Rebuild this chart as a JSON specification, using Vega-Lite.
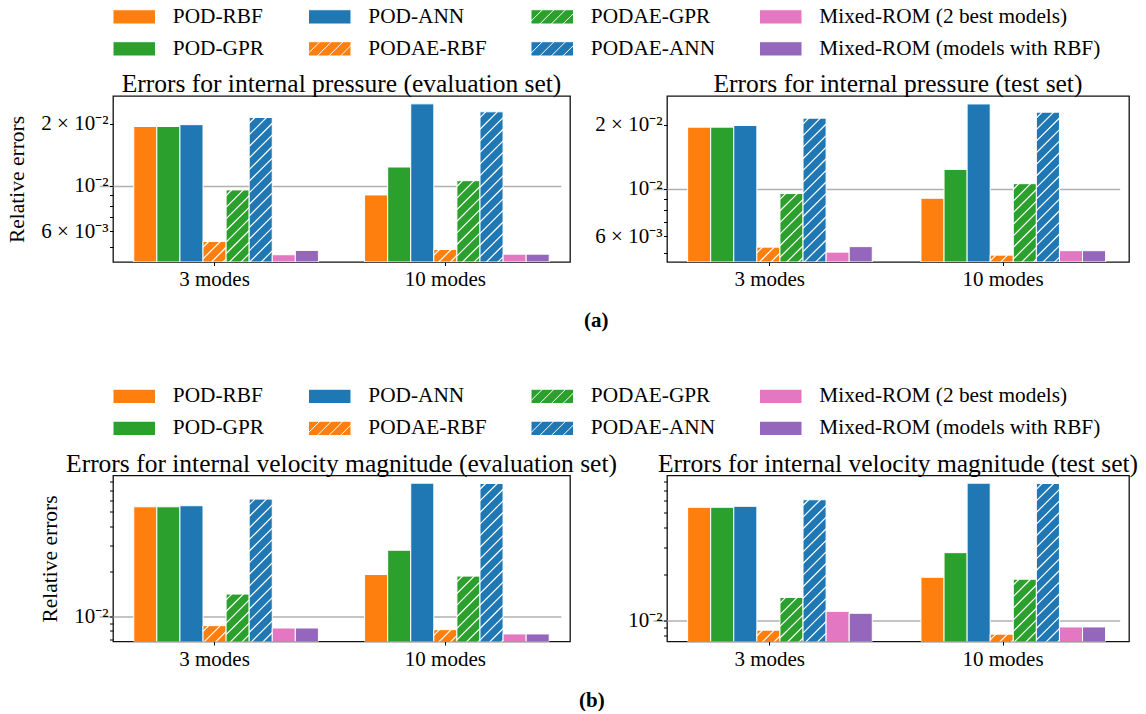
{
  "$schema": "https://vega.github.io/schema/vega-lite/v6.json",
  "padding": {"left": 6, "top": 6, "right": 0, "bottom": 0},
  "bounds": "flush",
  "spacing": 379.5,
  "datasets": {
    "bars": [
      {"panel": "pe", "mode": "3 modes", "model": "POD-RBF", "value": 0.0194},
      {"panel": "pe", "mode": "3 modes", "model": "POD-GPR", "value": 0.0194},
      {"panel": "pe", "mode": "3 modes", "model": "POD-ANN", "value": 0.0198},
      {"panel": "pe", "mode": "3 modes", "model": "PODAE-RBF", "value": 0.00535},
      {"panel": "pe", "mode": "3 modes", "model": "PODAE-GPR", "value": 0.00953},
      {"panel": "pe", "mode": "3 modes", "model": "PODAE-ANN", "value": 0.02146},
      {"panel": "pe", "mode": "3 modes", "model": "Mixed-ROM (2 best models)", "value": 0.00461},
      {"panel": "pe", "mode": "3 modes", "model": "Mixed-ROM (models with RBF)", "value": 0.00484},
      {"panel": "pe", "mode": "10 modes", "model": "POD-RBF", "value": 0.00901},
      {"panel": "pe", "mode": "10 modes", "model": "POD-GPR", "value": 0.01232},
      {"panel": "pe", "mode": "10 modes", "model": "POD-ANN", "value": 0.025},
      {"panel": "pe", "mode": "10 modes", "model": "PODAE-RBF", "value": 0.00489},
      {"panel": "pe", "mode": "10 modes", "model": "PODAE-GPR", "value": 0.01057},
      {"panel": "pe", "mode": "10 modes", "model": "PODAE-ANN", "value": 0.02287},
      {"panel": "pe", "mode": "10 modes", "model": "Mixed-ROM (2 best models)", "value": 0.00464},
      {"panel": "pe", "mode": "10 modes", "model": "Mixed-ROM (models with RBF)", "value": 0.00464},
      {"panel": "pt", "mode": "3 modes", "model": "POD-RBF", "value": 0.01945},
      {"panel": "pt", "mode": "3 modes", "model": "POD-GPR", "value": 0.01945},
      {"panel": "pt", "mode": "3 modes", "model": "POD-ANN", "value": 0.01979},
      {"panel": "pt", "mode": "3 modes", "model": "PODAE-RBF", "value": 0.00534},
      {"panel": "pt", "mode": "3 modes", "model": "PODAE-GPR", "value": 0.00951},
      {"panel": "pt", "mode": "3 modes", "model": "PODAE-ANN", "value": 0.02142},
      {"panel": "pt", "mode": "3 modes", "model": "Mixed-ROM (2 best models)", "value": 0.00506},
      {"panel": "pt", "mode": "3 modes", "model": "Mixed-ROM (models with RBF)", "value": 0.00537},
      {"panel": "pt", "mode": "10 modes", "model": "POD-RBF", "value": 0.00904},
      {"panel": "pt", "mode": "10 modes", "model": "POD-GPR", "value": 0.01234},
      {"panel": "pt", "mode": "10 modes", "model": "POD-ANN", "value": 0.02497},
      {"panel": "pt", "mode": "10 modes", "model": "PODAE-RBF", "value": 0.0049},
      {"panel": "pt", "mode": "10 modes", "model": "PODAE-GPR", "value": 0.01058},
      {"panel": "pt", "mode": "10 modes", "model": "PODAE-ANN", "value": 0.02285},
      {"panel": "pt", "mode": "10 modes", "model": "Mixed-ROM (2 best models)", "value": 0.00514},
      {"panel": "pt", "mode": "10 modes", "model": "Mixed-ROM (models with RBF)", "value": 0.00514},
      {"panel": "ve", "mode": "3 modes", "model": "POD-RBF", "value": 0.0541},
      {"panel": "ve", "mode": "3 modes", "model": "POD-GPR", "value": 0.0541},
      {"panel": "ve", "mode": "3 modes", "model": "POD-ANN", "value": 0.055},
      {"panel": "ve", "mode": "3 modes", "model": "PODAE-RBF", "value": 0.00867},
      {"panel": "ve", "mode": "3 modes", "model": "PODAE-GPR", "value": 0.0141},
      {"panel": "ve", "mode": "3 modes", "model": "PODAE-ANN", "value": 0.0609},
      {"panel": "ve", "mode": "3 modes", "model": "Mixed-ROM (2 best models)", "value": 0.00836},
      {"panel": "ve", "mode": "3 modes", "model": "Mixed-ROM (models with RBF)", "value": 0.00836},
      {"panel": "ve", "mode": "10 modes", "model": "POD-RBF", "value": 0.01905},
      {"panel": "ve", "mode": "10 modes", "model": "POD-GPR", "value": 0.0277},
      {"panel": "ve", "mode": "10 modes", "model": "POD-ANN", "value": 0.0778},
      {"panel": "ve", "mode": "10 modes", "model": "PODAE-RBF", "value": 0.00815},
      {"panel": "ve", "mode": "10 modes", "model": "PODAE-GPR", "value": 0.01859},
      {"panel": "ve", "mode": "10 modes", "model": "PODAE-ANN", "value": 0.0775},
      {"panel": "ve", "mode": "10 modes", "model": "Mixed-ROM (2 best models)", "value": 0.00763},
      {"panel": "ve", "mode": "10 modes", "model": "Mixed-ROM (models with RBF)", "value": 0.00763},
      {"panel": "vt", "mode": "3 modes", "model": "POD-RBF", "value": 0.0544},
      {"panel": "vt", "mode": "3 modes", "model": "POD-GPR", "value": 0.0544},
      {"panel": "vt", "mode": "3 modes", "model": "POD-ANN", "value": 0.0552},
      {"panel": "vt", "mode": "3 modes", "model": "PODAE-RBF", "value": 0.00866},
      {"panel": "vt", "mode": "3 modes", "model": "PODAE-GPR", "value": 0.01413},
      {"panel": "vt", "mode": "3 modes", "model": "PODAE-ANN", "value": 0.0609},
      {"panel": "vt", "mode": "3 modes", "model": "Mixed-ROM (2 best models)", "value": 0.01148},
      {"panel": "vt", "mode": "3 modes", "model": "Mixed-ROM (models with RBF)", "value": 0.01115},
      {"panel": "vt", "mode": "10 modes", "model": "POD-RBF", "value": 0.0191},
      {"panel": "vt", "mode": "10 modes", "model": "POD-GPR", "value": 0.0276},
      {"panel": "vt", "mode": "10 modes", "model": "POD-ANN", "value": 0.078},
      {"panel": "vt", "mode": "10 modes", "model": "PODAE-RBF", "value": 0.00816},
      {"panel": "vt", "mode": "10 modes", "model": "PODAE-GPR", "value": 0.01855},
      {"panel": "vt", "mode": "10 modes", "model": "PODAE-ANN", "value": 0.0776},
      {"panel": "vt", "mode": "10 modes", "model": "Mixed-ROM (2 best models)", "value": 0.00909},
      {"panel": "vt", "mode": "10 modes", "model": "Mixed-ROM (models with RBF)", "value": 0.00909}
    ]
  },
  "resolve": {"scale": {"color": "independent"}, "legend": {"color": "independent"}},
  "vconcat": [
    {
      "hconcat": [
        {
          "width": 457, "height": 166,
          "title": {"text": "Errors for internal pressure (evaluation set)", "frame": "group", "anchor": "middle", "offset": -21, "baseline": "alphabetic"},
          "data": {"name": "bars"},
          "transform": [{"filter": "datum.panel == 'pe'"}],
          "encoding": {
            "x": {"field": "mode", "type": "nominal", "sort": ["3 modes", "10 modes"], "scale": {"domain": ["3 modes", "10 modes"], "range": [-13.85, 447.77], "paddingInner": 0, "paddingOuter": 0}, "axis": {"title": null, "labelAngle": 0, "domain": false, "tickSize": 3.5, "labelPadding": 3}},
            "xOffset": {"field": "model", "type": "nominal", "scale": {"domain": [" ", "POD-RBF", "POD-GPR", "POD-ANN", "PODAE-RBF", "PODAE-GPR", "PODAE-ANN", "Mixed-ROM (2 best models)", "Mixed-ROM (models with RBF)"], "paddingInner": 0, "paddingOuter": 0.5}},
            "y": {"field": "value", "type": "quantitative", "stack": null, "scale": {"type": "log", "domain": [0.00425, 0.0273], "nice": false}, "axis": {"values": [0.005, 0.006, 0.007, 0.008, 0.009, 0.01, 0.02], "labelExpr": "datum.value == 0.02 ? '2 × 10⁻²' : datum.value == 0.01 ? '10⁻²' : datum.value == 0.006 ? '6 × 10⁻³' : ''", "title": "Relative errors", "titlePadding": 12, "tickSize": 3.5, "labelPadding": 1.5, "domain": false, "grid": true, "gridColor": "#b0b0b0", "gridWidth": 1.3, "gridOpacity": {"condition": {"test": "datum.value == 0.01", "value": 1}, "value": 0}, "labelOverlap": false}}
          },
          "layer": [
            {"mark": {"type": "bar", "stroke": "white", "strokeWidth": 1, "clip": true},
             "encoding": {"color": {"field": "model", "type": "nominal", "scale": {"domain": ["POD-RBF", "POD-GPR", "POD-ANN", "PODAE-RBF", "PODAE-GPR", "PODAE-ANN", "Mixed-ROM (2 best models)", "Mixed-ROM (models with RBF)"], "range": ["#ff7f0e", "#2ca02c", "#1f77b4", "#ff7f0e", "#2ca02c", "#1f77b4", "#e377c2", "#9467bd"]},
               "legend": {"title": null, "orient": "none", "legendX": -3.5, "legendY": -89.8, "columns": 4, "symbolType": "M-1,-1H4.944V1H-1Z", "symbolSize": 204.5, "symbolStrokeColor": "white", "symbolStrokeWidth": 1, "symbolOpacity": 1, "labelFontSize": 21.3, "labelFont": "Liberation Serif", "labelColor": "black", "labelOffset": 42, "columnPadding": 40.5, "rowPadding": 10, "labelLimit": 400, "padding": 0,
                 "encode": {"symbols": {"update": {"shape": {"signal": "indexof(['PODAE-RBF','PODAE-GPR','PODAE-ANN'], datum.value) >= 0 ? 'M-1,-1H4.944V1H-1ZM0.6,-1L-1,0.6M2.22,-1L0.22,1M3.84,-1L1.84,1M4.944,-0.484L3.46,1' : 'M-1,-1H4.944V1H-1Z'"}}}}}}}},
            {"transform": [{"filter": "indexof(['PODAE-RBF','PODAE-GPR','PODAE-ANN'], datum.model) >= 0"}],
             "mark": {"type": "point", "shape": "M-5.8,0L-11.6,5.8M5.8,0L-11.6,17.4M11.6,5.8L-11.6,29M11.6,17.4L-11.6,40.6M11.6,29L-11.6,52.2M11.6,40.6L-11.6,63.8M11.6,52.2L-11.6,75.4M11.6,63.8L-11.6,87M11.6,75.4L-11.6,98.6M11.6,87L-11.6,110.2M11.6,98.6L-11.6,121.8M11.6,110.2L-11.6,133.4M11.6,121.8L-11.6,145M11.6,133.4L-11.6,156.6M11.6,145L-11.6,168.2M11.6,156.6L-11.6,179.8M11.6,168.2L-11.6,191.4M11.6,179.8L-11.6,203", "size": 4, "filled": false, "stroke": "white", "strokeWidth": 1.2, "opacity": 1, "clip": true}}
          ]
        },
        {
          "width": 462, "height": 166,
          "title": {"text": "Errors for internal pressure (test set)", "frame": "group", "anchor": "middle", "offset": -21, "baseline": "alphabetic"},
          "data": {"name": "bars"},
          "transform": [{"filter": "datum.panel == 'pt'"}],
          "encoding": {
            "x": {"field": "mode", "type": "nominal", "sort": ["3 modes", "10 modes"], "scale": {"domain": ["3 modes", "10 modes"], "range": [-14, 452.67], "paddingInner": 0, "paddingOuter": 0}, "axis": {"title": null, "labelAngle": 0, "domain": false, "tickSize": 3.5, "labelPadding": 3}},
            "xOffset": {"field": "model", "type": "nominal", "scale": {"domain": [" ", "POD-RBF", "POD-GPR", "POD-ANN", "PODAE-RBF", "PODAE-GPR", "PODAE-ANN", "Mixed-ROM (2 best models)", "Mixed-ROM (models with RBF)"], "paddingInner": 0, "paddingOuter": 0.5}},
            "y": {"field": "value", "type": "quantitative", "stack": null, "scale": {"type": "log", "domain": [0.00455, 0.0272], "nice": false}, "axis": {"values": [0.005, 0.006, 0.007, 0.008, 0.009, 0.01, 0.02], "labelExpr": "datum.value == 0.02 ? '2 × 10⁻²' : datum.value == 0.01 ? '10⁻²' : datum.value == 0.006 ? '6 × 10⁻³' : ''", "title": null, "tickSize": 3.5, "labelPadding": 1.5, "domain": false, "grid": true, "gridColor": "#b0b0b0", "gridWidth": 1.3, "gridOpacity": {"condition": {"test": "datum.value == 0.01", "value": 1}, "value": 0}, "labelOverlap": false}}
          },
          "layer": [
            {"mark": {"type": "bar", "stroke": "white", "strokeWidth": 1, "clip": true},
             "encoding": {"color": {"field": "model", "type": "nominal", "scale": {"domain": ["POD-RBF", "POD-GPR", "POD-ANN", "PODAE-RBF", "PODAE-GPR", "PODAE-ANN", "Mixed-ROM (2 best models)", "Mixed-ROM (models with RBF)"], "range": ["#ff7f0e", "#2ca02c", "#1f77b4", "#ff7f0e", "#2ca02c", "#1f77b4", "#e377c2", "#9467bd"]},
               "legend": {"title": null, "orient": "none", "legendX": -3.5, "legendY": -89.8, "columns": 4, "symbolType": "M-1,-1H4.944V1H-1Z", "symbolSize": 204.5, "symbolStrokeColor": "white", "symbolStrokeWidth": 1, "symbolOpacity": 1, "labelFontSize": 21.3, "labelFont": "Liberation Serif", "labelColor": "black", "labelOffset": 42, "columnPadding": 40.5, "rowPadding": 10, "labelLimit": 400, "padding": 0,
                 "encode": {"symbols": {"update": {"shape": {"signal": "indexof(['PODAE-RBF','PODAE-GPR','PODAE-ANN'], datum.value) >= 0 ? 'M-1,-1H4.944V1H-1ZM0.6,-1L-1,0.6M2.22,-1L0.22,1M3.84,-1L1.84,1M4.944,-0.484L3.46,1' : 'M-1,-1H4.944V1H-1Z'"}}}}}}}},
            {"transform": [{"filter": "indexof(['PODAE-RBF','PODAE-GPR','PODAE-ANN'], datum.model) >= 0"}],
             "mark": {"type": "point", "shape": "M-5.8,0L-11.6,5.8M5.8,0L-11.6,17.4M11.6,5.8L-11.6,29M11.6,17.4L-11.6,40.6M11.6,29L-11.6,52.2M11.6,40.6L-11.6,63.8M11.6,52.2L-11.6,75.4M11.6,63.8L-11.6,87M11.6,75.4L-11.6,98.6M11.6,87L-11.6,110.2M11.6,98.6L-11.6,121.8M11.6,110.2L-11.6,133.4M11.6,121.8L-11.6,145M11.6,133.4L-11.6,156.6M11.6,145L-11.6,168.2M11.6,156.6L-11.6,179.8M11.6,168.2L-11.6,191.4M11.6,179.8L-11.6,203", "size": 4, "filled": false, "stroke": "white", "strokeWidth": 1.2, "opacity": 1, "clip": true}}
          ]
        }
      ],
      "spacing": 97,
      "bounds": "flush",
      "title": {"text": "(a)", "orient": "bottom", "anchor": "middle", "frame": "bounds", "offset": 31, "dx": 26, "baseline": "middle", "fontWeight": "bold", "fontSize": 21}
    },
    {
      "hconcat": [
        {
          "width": 457, "height": 166,
          "title": {"text": "Errors for internal velocity magnitude (evaluation set)", "frame": "group", "anchor": "middle", "offset": -27.5, "baseline": "alphabetic"},
          "data": {"name": "bars"},
          "transform": [{"filter": "datum.panel == 've'"}],
          "encoding": {
            "x": {"field": "mode", "type": "nominal", "sort": ["3 modes", "10 modes"], "scale": {"domain": ["3 modes", "10 modes"], "range": [-13.85, 447.77], "paddingInner": 0, "paddingOuter": 0}, "axis": {"title": null, "labelAngle": 0, "domain": false, "tickSize": 3.5, "labelPadding": 3}},
            "xOffset": {"field": "model", "type": "nominal", "scale": {"domain": [" ", "POD-RBF", "POD-GPR", "POD-ANN", "PODAE-RBF", "PODAE-GPR", "PODAE-ANN", "Mixed-ROM (2 best models)", "Mixed-ROM (models with RBF)"], "paddingInner": 0, "paddingOuter": 0.5}},
            "y": {"field": "value", "type": "quantitative", "stack": null, "scale": {"type": "log", "domain": [0.00679, 0.0876], "nice": false}, "axis": {"values": [0.007, 0.008, 0.009, 0.01, 0.02, 0.03, 0.04, 0.05, 0.06, 0.07, 0.08], "labelExpr": "datum.value == 0.01 ? '10⁻²' : ''", "title": "Relative errors", "titlePadding": 12, "tickSize": 3.5, "labelPadding": 1.5, "domain": false, "grid": true, "gridColor": "#b0b0b0", "gridWidth": 1.3, "gridOpacity": {"condition": {"test": "datum.value == 0.01", "value": 1}, "value": 0}, "labelOverlap": false}}
          },
          "layer": [
            {"mark": {"type": "bar", "stroke": "white", "strokeWidth": 1, "clip": true},
             "encoding": {"color": {"field": "model", "type": "nominal", "scale": {"domain": ["POD-RBF", "POD-GPR", "POD-ANN", "PODAE-RBF", "PODAE-GPR", "PODAE-ANN", "Mixed-ROM (2 best models)", "Mixed-ROM (models with RBF)"], "range": ["#ff7f0e", "#2ca02c", "#1f77b4", "#ff7f0e", "#2ca02c", "#1f77b4", "#e377c2", "#9467bd"]},
               "legend": {"title": null, "orient": "none", "legendX": -3.5, "legendY": -89.8, "columns": 4, "symbolType": "M-1,-1H4.944V1H-1Z", "symbolSize": 204.5, "symbolStrokeColor": "white", "symbolStrokeWidth": 1, "symbolOpacity": 1, "labelFontSize": 21.3, "labelFont": "Liberation Serif", "labelColor": "black", "labelOffset": 42, "columnPadding": 40.5, "rowPadding": 10, "labelLimit": 400, "padding": 0,
                 "encode": {"symbols": {"update": {"shape": {"signal": "indexof(['PODAE-RBF','PODAE-GPR','PODAE-ANN'], datum.value) >= 0 ? 'M-1,-1H4.944V1H-1ZM0.6,-1L-1,0.6M2.22,-1L0.22,1M3.84,-1L1.84,1M4.944,-0.484L3.46,1' : 'M-1,-1H4.944V1H-1Z'"}}}}}}}},
            {"transform": [{"filter": "indexof(['PODAE-RBF','PODAE-GPR','PODAE-ANN'], datum.model) >= 0"}],
             "mark": {"type": "point", "shape": "M-5.8,0L-11.6,5.8M5.8,0L-11.6,17.4M11.6,5.8L-11.6,29M11.6,17.4L-11.6,40.6M11.6,29L-11.6,52.2M11.6,40.6L-11.6,63.8M11.6,52.2L-11.6,75.4M11.6,63.8L-11.6,87M11.6,75.4L-11.6,98.6M11.6,87L-11.6,110.2M11.6,98.6L-11.6,121.8M11.6,110.2L-11.6,133.4M11.6,121.8L-11.6,145M11.6,133.4L-11.6,156.6M11.6,145L-11.6,168.2M11.6,156.6L-11.6,179.8M11.6,168.2L-11.6,191.4M11.6,179.8L-11.6,203", "size": 4, "filled": false, "stroke": "white", "strokeWidth": 1.2, "opacity": 1, "clip": true}}
          ]
        },
        {
          "width": 462, "height": 166,
          "title": {"text": "Errors for internal velocity magnitude (test set)", "frame": "group", "anchor": "middle", "offset": -27.5, "baseline": "alphabetic"},
          "data": {"name": "bars"},
          "transform": [{"filter": "datum.panel == 'vt'"}],
          "encoding": {
            "x": {"field": "mode", "type": "nominal", "sort": ["3 modes", "10 modes"], "scale": {"domain": ["3 modes", "10 modes"], "range": [-14, 452.67], "paddingInner": 0, "paddingOuter": 0}, "axis": {"title": null, "labelAngle": 0, "domain": false, "tickSize": 3.5, "labelPadding": 3}},
            "xOffset": {"field": "model", "type": "nominal", "scale": {"domain": [" ", "POD-RBF", "POD-GPR", "POD-ANN", "PODAE-RBF", "PODAE-GPR", "PODAE-ANN", "Mixed-ROM (2 best models)", "Mixed-ROM (models with RBF)"], "paddingInner": 0, "paddingOuter": 0.5}},
            "y": {"field": "value", "type": "quantitative", "stack": null, "scale": {"type": "log", "domain": [0.00731, 0.0875], "nice": false}, "axis": {"values": [0.008, 0.009, 0.01, 0.02, 0.03, 0.04, 0.05, 0.06, 0.07, 0.08], "labelExpr": "datum.value == 0.01 ? '10⁻²' : ''", "title": null, "tickSize": 3.5, "labelPadding": 1.5, "domain": false, "grid": true, "gridColor": "#b0b0b0", "gridWidth": 1.3, "gridOpacity": {"condition": {"test": "datum.value == 0.01", "value": 1}, "value": 0}, "labelOverlap": false}}
          },
          "layer": [
            {"mark": {"type": "bar", "stroke": "white", "strokeWidth": 1, "clip": true},
             "encoding": {"color": {"field": "model", "type": "nominal", "scale": {"domain": ["POD-RBF", "POD-GPR", "POD-ANN", "PODAE-RBF", "PODAE-GPR", "PODAE-ANN", "Mixed-ROM (2 best models)", "Mixed-ROM (models with RBF)"], "range": ["#ff7f0e", "#2ca02c", "#1f77b4", "#ff7f0e", "#2ca02c", "#1f77b4", "#e377c2", "#9467bd"]},
               "legend": {"title": null, "orient": "none", "legendX": -3.5, "legendY": -89.8, "columns": 4, "symbolType": "M-1,-1H4.944V1H-1Z", "symbolSize": 204.5, "symbolStrokeColor": "white", "symbolStrokeWidth": 1, "symbolOpacity": 1, "labelFontSize": 21.3, "labelFont": "Liberation Serif", "labelColor": "black", "labelOffset": 42, "columnPadding": 40.5, "rowPadding": 10, "labelLimit": 400, "padding": 0,
                 "encode": {"symbols": {"update": {"shape": {"signal": "indexof(['PODAE-RBF','PODAE-GPR','PODAE-ANN'], datum.value) >= 0 ? 'M-1,-1H4.944V1H-1ZM0.6,-1L-1,0.6M2.22,-1L0.22,1M3.84,-1L1.84,1M4.944,-0.484L3.46,1' : 'M-1,-1H4.944V1H-1Z'"}}}}}}}},
            {"transform": [{"filter": "indexof(['PODAE-RBF','PODAE-GPR','PODAE-ANN'], datum.model) >= 0"}],
             "mark": {"type": "point", "shape": "M-5.8,0L-11.6,5.8M5.8,0L-11.6,17.4M11.6,5.8L-11.6,29M11.6,17.4L-11.6,40.6M11.6,29L-11.6,52.2M11.6,40.6L-11.6,63.8M11.6,52.2L-11.6,75.4M11.6,63.8L-11.6,87M11.6,75.4L-11.6,98.6M11.6,87L-11.6,110.2M11.6,98.6L-11.6,121.8M11.6,110.2L-11.6,133.4M11.6,121.8L-11.6,145M11.6,133.4L-11.6,156.6M11.6,145L-11.6,168.2M11.6,156.6L-11.6,179.8M11.6,168.2L-11.6,191.4M11.6,179.8L-11.6,203", "size": 4, "filled": false, "stroke": "white", "strokeWidth": 1.2, "opacity": 1, "clip": true}}
          ]
        }
      ],
      "spacing": 97,
      "bounds": "flush",
      "title": {"text": "(b)", "orient": "bottom", "anchor": "middle", "frame": "bounds", "offset": 31, "dx": 3, "baseline": "middle", "fontWeight": "bold", "fontSize": 21}
    }
  ],
  "config": {
    "font": "Liberation Serif",
    "background": "white",
    "view": {"stroke": "#111111", "strokeWidth": 1.3},
    "axis": {"labelFont": "Liberation Serif", "labelFontSize": 21, "labelColor": "black", "tickColor": "black", "tickWidth": 1, "titleFont": "Liberation Serif", "titleFontSize": 21.5, "titleFontWeight": "normal", "titleColor": "black"},
    "title": {"font": "Liberation Serif", "fontSize": 25.5, "fontWeight": "normal", "color": "black"}
  }
}
